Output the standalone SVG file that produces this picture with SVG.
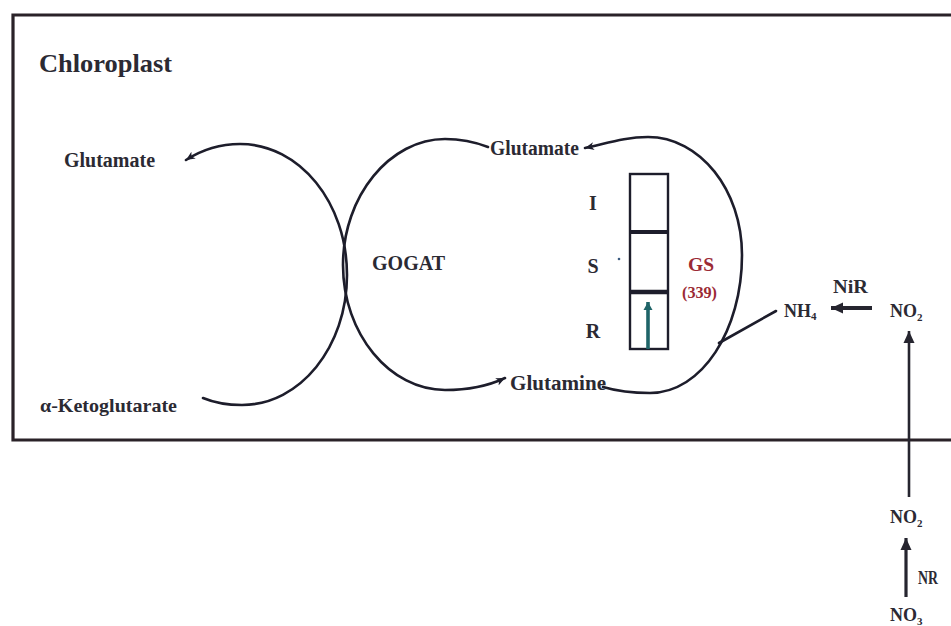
<svg xmlns="http://www.w3.org/2000/svg" width="951" height="626" viewBox="0 0 951 626">
  <style>
    .t { font-family: "Liberation Serif", "Times New Roman", serif; font-weight: bold; fill: #2b2a33; }
    .red { fill: #9b2a35; }
    .curve { fill: none; stroke: #1d1d2b; stroke-width: 2.6; stroke-linecap: round; }
    .ln { fill: none; stroke: #26252f; stroke-linecap: butt; }
  </style>
  <defs>
    <marker id="tip" markerUnits="userSpaceOnUse" markerWidth="12" markerHeight="10" refX="9" refY="5" orient="auto">
      <path d="M0,1 L9,5 L0,9 L2.5,5 Z" fill="#1d1d2b"/>
    </marker>
    <marker id="head" markerUnits="userSpaceOnUse" markerWidth="14" markerHeight="12" refX="12" refY="6" orient="auto">
      <path d="M0,0.5 L12,6 L0,11.5 Z" fill="#26252f"/>
    </marker>
    <marker id="teal" markerUnits="userSpaceOnUse" markerWidth="10" markerHeight="10" refX="8" refY="5" orient="auto">
      <path d="M0,0.5 L8,5 L0,9.5 Z" fill="#1f6468"/>
    </marker>
  </defs>

  <!-- chloroplast envelope (open on the right) -->
  <g id="chloroplast">
    <path d="M951,15 L13,15 L13,440 L951,440" fill="none" stroke="#2a2228" stroke-width="3.2"/>
    <text class="t" x="39" y="72" font-size="26" textLength="133" lengthAdjust="spacingAndGlyphs">Chloroplast</text>
  </g>

  <!-- cycle connectors -->
  <g id="connectors">
    <!-- left arc: α-ketoglutarate to glutamate -->
    <path class="curve" marker-end="url(#tip)" d="M203,398 C215,403 228,405 242,405 C300,405 347,347 347,275 C347,203 300,144 240,144 C218,144 200,151 186,160"/>
    <!-- GOGAT arc: glutamate to glutamine -->
    <path class="curve" marker-end="url(#tip)" d="M488,147 C475,142 460,139 445,139 C390,139 343,196 343,265 C343,334 390,390 445,390 C470,390 488,386 505,378"/>
    <!-- GS arc: glutamine to glutamate -->
    <path class="curve" marker-end="url(#tip)" d="M603,387 C620,392 635,393 650,393 C702,393 742,330 742,255 C742,190 700,137 648,137 C625,137 608,143 585,148"/>
    <!-- ammonium feeding into GS -->
    <path class="curve" d="M719,343 L776,311"/>
    <!-- NiR: nitrite to ammonium -->
    <path class="ln" stroke-width="4" marker-end="url(#head)" d="M872,308 L831,308"/>
    <!-- nitrite import -->
    <path class="ln" stroke-width="2.6" marker-end="url(#head)" d="M909,497 L909,331"/>
    <!-- NR: nitrate to nitrite -->
    <path class="ln" stroke-width="3.2" marker-end="url(#head)" d="M906,597 L906,538"/>
  </g>

  <g id="glutamate-left">
    <text class="t" x="64" y="167" font-size="20" textLength="91" lengthAdjust="spacingAndGlyphs">Glutamate</text>
  </g>
  <g id="ketoglutarate">
    <text class="t" x="40" y="412" font-size="19" textLength="137" lengthAdjust="spacingAndGlyphs">α-Ketoglutarate</text>
  </g>
  <g id="gogat">
    <text class="t" x="372" y="270" font-size="20" textLength="73" lengthAdjust="spacingAndGlyphs">GOGAT</text>
  </g>
  <g id="glutamate-top">
    <text class="t" x="490" y="155" font-size="20" textLength="89" lengthAdjust="spacingAndGlyphs">Glutamate</text>
  </g>
  <g id="glutamine">
    <text class="t" x="510" y="390" font-size="20" textLength="96" lengthAdjust="spacingAndGlyphs">Glutamine</text>
  </g>

  <!-- GS resistance gauge: I / S / R -->
  <g id="gauge">
    <rect x="630" y="174" width="38" height="175" fill="none" stroke="#1d1d2b" stroke-width="2.4"/>
    <line x1="630" y1="232" x2="668" y2="232" stroke="#1d1d2b" stroke-width="4"/>
    <line x1="630" y1="292" x2="668" y2="292" stroke="#1d1d2b" stroke-width="4.5"/>
    <line x1="648" y1="349" x2="648" y2="302" stroke="#1f6468" stroke-width="3.6" marker-end="url(#teal)"/>
    <text class="t" x="593" y="210" font-size="20" text-anchor="middle">I</text>
    <text class="t" x="593" y="273" font-size="20" text-anchor="middle">S</text>
    <text class="t" x="593" y="338" font-size="20" text-anchor="middle">R</text>
    <circle cx="619" cy="259" r="1.3" fill="#3a5a80"/>
  </g>
  <g id="gs">
    <text class="t red" x="688" y="271" font-size="19" textLength="26" lengthAdjust="spacingAndGlyphs">GS</text>
    <text class="t red" x="682" y="298" font-size="16" textLength="35" lengthAdjust="spacingAndGlyphs">(339)</text>
  </g>

  <g id="nh4">
    <text class="t" x="784" y="317" font-size="18">NH<tspan font-size="11" dy="3">4</tspan></text>
  </g>
  <g id="nir">
    <text class="t" x="833" y="293" font-size="18" textLength="35" lengthAdjust="spacingAndGlyphs">NiR</text>
  </g>
  <g id="no2-top">
    <text class="t" x="890" y="317" font-size="18">NO<tspan font-size="11" dy="4">2</tspan></text>
  </g>
  <g id="no2-bottom">
    <text class="t" x="890" y="523" font-size="18">NO<tspan font-size="11" dy="4">2</tspan></text>
  </g>
  <g id="nr">
    <text class="t" x="918" y="584" font-size="18" textLength="20" lengthAdjust="spacingAndGlyphs">NR</text>
  </g>
  <g id="no3">
    <text class="t" x="890" y="621" font-size="18">NO<tspan font-size="11" dy="4">3</tspan></text>
  </g>
</svg>
